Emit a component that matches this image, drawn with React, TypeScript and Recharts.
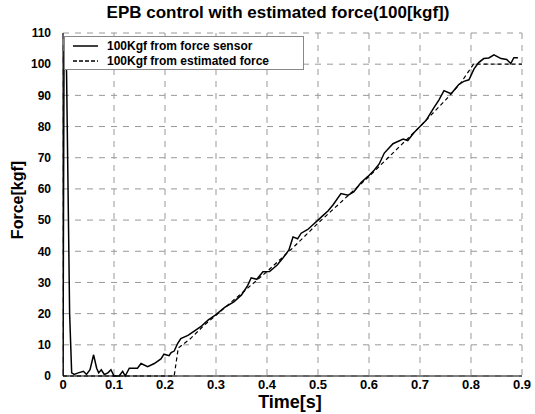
import React from 'react';
import { LineChart, Line, XAxis, YAxis, CartesianGrid } from 'recharts';

const sensorTime = [0, 0.002, 0.006, 0.007, 0.013, 0.017, 0.022, 0.03, 0.04, 0.046, 0.053, 0.06, 0.066, 0.07, 0.075, 0.081, 0.088, 0.094, 0.1, 0.11, 0.117, 0.122, 0.13, 0.14, 0.146, 0.153, 0.166, 0.179, 0.192, 0.198, 0.208, 0.212, 0.218, 0.225, 0.231, 0.245, 0.258, 0.27, 0.285, 0.3, 0.317, 0.335, 0.35, 0.362, 0.369, 0.38, 0.392, 0.405, 0.42, 0.432, 0.443, 0.451, 0.46, 0.467, 0.48, 0.49, 0.5, 0.51, 0.52, 0.53, 0.545, 0.559, 0.57, 0.584, 0.598, 0.61, 0.62, 0.63, 0.647, 0.667, 0.676, 0.688, 0.7, 0.712, 0.727, 0.737, 0.747, 0.761, 0.776, 0.786, 0.796, 0.806, 0.815, 0.825, 0.835, 0.845, 0.859, 0.87, 0.878, 0.884, 0.892];
const sensorForce = [0, 104, 104, 97, 20, 1, 0.5, 1, 1.5, 0.5, 2, 6.8, 2.5, 1, 2, 0.5, 1, 2, 0, 0, 1.5, 0, 2.5, 2.5, 2.5, 4, 3, 4, 5.5, 7, 6.5, 7.5, 8, 10.5, 12, 13, 14.5, 15.8, 18, 19.7, 22, 23.8, 26, 29, 31.5, 31, 33.4, 33.5, 35.6, 38, 40.4, 44.6, 44, 45.8, 47, 48.5, 50, 51.5, 53, 55, 58.5, 58, 59, 62, 64, 66, 68, 71.5, 74.5, 76, 75.5, 78, 80, 82, 86, 88.5, 91.5, 90.5, 93.5, 94.5, 95, 98.5, 100.5, 101.8, 102, 103, 101.8, 101.5, 100.2, 102.1, 102.1];

const estTime = [0, 0.218, 0.226, 0.25, 0.275, 0.3, 0.35, 0.4, 0.45, 0.5, 0.55, 0.6, 0.65, 0.7, 0.75, 0.78, 0.805, 0.9];
const estForce = [0, 0, 9, 12, 16, 19.5, 26.5, 33.5, 41, 49, 56.5, 64, 72, 80, 88.5, 94, 100, 100];

const xTicks = [0, 0.1, 0.2, 0.3, 0.4, 0.5, 0.6, 0.7, 0.8, 0.9];
const yTicks = [0, 10, 20, 30, 40, 50, 60, 70, 80, 90, 100, 110];

const titleText = 'EPB control with estimated force(100[kgf])';
const xLabel = 'Time[s]';
const yLabel = 'Force[kgf]';
const sensorName = '100Kgf from force sensor';
const estName = '100Kgf from estimated force';

const sensorData = sensorTime.map((t, i) => ({ t, f: sensorForce[i] }));
const estData = estTime.map((t, i) => ({ t, f: estForce[i] }));

const FONT = '"Liberation Sans", Arial, sans-serif';

const LegendBox = () => (
  <div
    style={{
      position: 'absolute',
      left: 64,
      top: 36,
      width: 240,
      height: 34,
      border: '1px solid #888',
      background: '#fff',
      fontFamily: FONT,
      fontWeight: 'bold',
      fontSize: 12,
      color: '#000',
      boxSizing: 'border-box',
    }}
  >
    <div style={{ position: 'absolute', left: 6, top: 2, display: 'flex', alignItems: 'center', whiteSpace: 'nowrap' }}>
      <svg width={28} height={12}><line x1={2} y1={6} x2={27} y2={6} stroke="#000" strokeWidth={1.5} /></svg>
      <span style={{ marginLeft: 8 }}>{sensorName}</span>
    </div>
    <div style={{ position: 'absolute', left: 6, top: 17, display: 'flex', alignItems: 'center', whiteSpace: 'nowrap' }}>
      <svg width={28} height={12}><line x1={2} y1={6} x2={27} y2={6} stroke="#000" strokeWidth={1.3} strokeDasharray="4 2" /></svg>
      <span style={{ marginLeft: 8 }}>{estName}</span>
    </div>
  </div>
);

export default function App() {
  return (
    <div style={{ position: 'absolute', left: 0, top: 0, width: 535, height: 414, background: '#fff' }}>
      <LineChart
        width={535}
        height={414}
        margin={{ top: 33, right: 13, bottom: 13, left: 0 }}
      >
        <CartesianGrid stroke="#999" strokeDasharray="6 6" />
        <XAxis
          dataKey="t"
          type="number"
          domain={[0, 0.9]}
          ticks={xTicks}
          allowDataOverflow
          height={25}
          tickLine={false}
          tickSize={0}
          tickMargin={4}
          stroke="#000"
          tick={{ fill: '#000', fontSize: 13, fontWeight: 'bold', fontFamily: FONT }}
          tickFormatter={(v: number) => String(v)}
        />
        <YAxis
          type="number"
          domain={[0, 110]}
          ticks={yTicks}
          width={63}
          tickLine={false}
          tickSize={0}
          tickMargin={12}
          stroke="#000"
          tick={{ fill: '#000', fontSize: 12, fontWeight: 'bold', fontFamily: FONT }}
        />
        <Line
          data={estData}
          dataKey="f"
          type="linear"
          stroke="#000"
          strokeWidth={1.2}
          strokeDasharray="4 3"
          dot={false}
          isAnimationActive={false}
          name={estName}
        />
        <Line
          data={sensorData}
          dataKey="f"
          type="linear"
          stroke="#000"
          strokeWidth={1.5}
          dot={false}
          isAnimationActive={false}
          name={sensorName}
        />
      </LineChart>
      <LegendBox />
      <div
        style={{
          position: 'absolute', left: 78, width: 400, top: 3, textAlign: 'center',
          fontFamily: FONT, fontWeight: 'bold', fontSize: 17, color: '#000', whiteSpace: 'nowrap',
        }}
      >
        {titleText}
      </div>
      <div
        style={{
          position: 'absolute', left: 190, width: 200, top: 392, textAlign: 'center', lineHeight: '20px',
          fontFamily: FONT, fontWeight: 'bold', fontSize: 18, color: '#000',
        }}
      >
        {xLabel}
      </div>
      <div
        style={{
          position: 'absolute', left: -32, width: 100, top: 190, height: 20, lineHeight: '20px',
          textAlign: 'center', transform: 'rotate(-90deg)',
          fontFamily: FONT, fontWeight: 'bold', fontSize: 16, color: '#000', whiteSpace: 'nowrap',
        }}
      >
        {yLabel}
      </div>
    </div>
  );
}
